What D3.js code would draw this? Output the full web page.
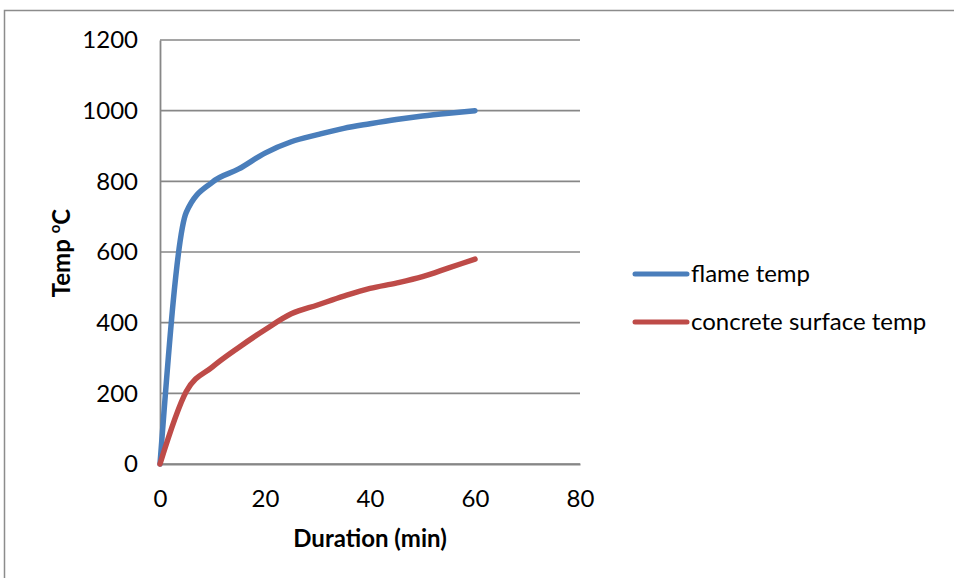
<!DOCTYPE html>
<html>
<head>
<meta charset="utf-8">
<script src="https://cdn.jsdelivr.net/npm/d3@7"></script>
<style>
  body { margin: 0; background: #fff; }
  text { font-family: Lato, "Open Sans", sans-serif; fill: #000; }
</style>
</head>
<body>
<script>
// data
var minutes   = [0, 5, 10, 15, 20, 25, 30, 35, 40, 45, 50, 55, 60];
var flameTemp = [0, 712, 798, 835, 880, 912, 932, 950, 963, 975, 985, 993, 1000];
var surfTemp  = [0, 205, 275, 330, 380, 425, 450, 475, 497, 512, 530, 555, 580];
var seriesNames  = ["flame temp", "concrete surface temp"];
var seriesColors = ["#4a7ebb", "#be4b48"];
var xTicks = [0, 20, 40, 60, 80];
var yTicks = [0, 200, 400, 600, 800, 1000, 1200];

var w = 954, h = 578;
var padL = 160, padR = 580, padT = 40, padB = 464;
var fs = 24;

var svg = d3.select("body").append("svg")
  .attr("width", w)
  .attr("height", h);

// outer chart border
svg.append("rect")
  .attr("x", 4.5).attr("y", 10.5)
  .attr("width", 1000).attr("height", 1000)
  .attr("fill", "none")
  .attr("stroke", "#8c8c8c")
  .attr("stroke-width", 1.5);

var x = d3.scaleLinear().domain([0, 80]).range([padL, padR]);
var y = d3.scaleLinear().domain([0, 1200]).range([padB, padT]);

// gridlines
svg.append("g")
  .selectAll("line")
  .data(yTicks)
  .enter()
  .append("line")
  .attr("x1", padL).attr("x2", padR)
  .attr("y1", function (d) { return y(d); })
  .attr("y2", function (d) { return y(d); })
  .attr("stroke", "#878787")
  .attr("stroke-width", 1.6);

var yAxis = d3.axisLeft(y).tickValues(yTicks).tickFormat(d3.format("d")).tickSize(0).tickPadding(22);
var xAxis = d3.axisBottom(x).tickValues(xTicks).tickFormat(d3.format("d")).tickSize(0).tickPadding(21);

var gy = svg.append("g")
  .attr("transform", "translate(" + padL + ",0)")
  .call(yAxis);
var gx = svg.append("g")
  .attr("transform", "translate(0," + padB + ")")
  .call(xAxis);

[gx, gy].forEach(function (g) {
  g.select(".domain").attr("stroke", "#878787").attr("stroke-width", 1.8);
  g.selectAll(".tick text")
    .attr("font-size", fs)
    .attr("font-family", "Lato, 'Open Sans', sans-serif")
    .attr("fill", "#000");
});
gx.selectAll(".tick text").attr("dy", "0.9em");

// lines
var line = d3.line()
  .x(function (d) { return x(d[0]); })
  .y(function (d) { return y(d[1]); })
  .curve(d3.curveMonotoneX);

[flameTemp, surfTemp].forEach(function (vals, i) {
  svg.append("path")
    .datum(minutes.map(function (m, j) { return [m, vals[j]]; }))
    .attr("fill", "none")
    .attr("stroke", seriesColors[i])
    .attr("stroke-width", 5.5)
    .attr("stroke-linejoin", "round")
    .attr("stroke-linecap", "round")
    .attr("d", line);
});

// axis titles
svg.append("text")
  .attr("x", (padL + padR) / 2)
  .attr("y", 547)
  .attr("text-anchor", "middle")
  .attr("font-size", fs)
  .attr("font-weight", "bold")
  .text("Duration (min)");

var yt = svg.append("text")
  .attr("transform", "translate(70,253) rotate(-90)")
  .attr("text-anchor", "middle")
  .attr("font-size", fs)
  .attr("font-weight", "bold");
yt.append("tspan").text("Temp ");
yt.append("tspan").attr("font-size", 15).attr("dy", -10).text("o");
yt.append("tspan").attr("dy", 10).text("C");

// legend
var legend = svg.append("g");
seriesNames.forEach(function (name, i) {
  var ly = 274 + i * 48;
  legend.append("line")
    .attr("x1", 635).attr("x2", 687)
    .attr("y1", ly).attr("y2", ly)
    .attr("stroke", seriesColors[i])
    .attr("stroke-width", 5)
    .attr("stroke-linecap", "round");
  legend.append("text")
    .attr("x", 691)
    .attr("y", ly + 8)
    .attr("font-size", fs)
    .text(name);
});
</script>
</body>
</html>
